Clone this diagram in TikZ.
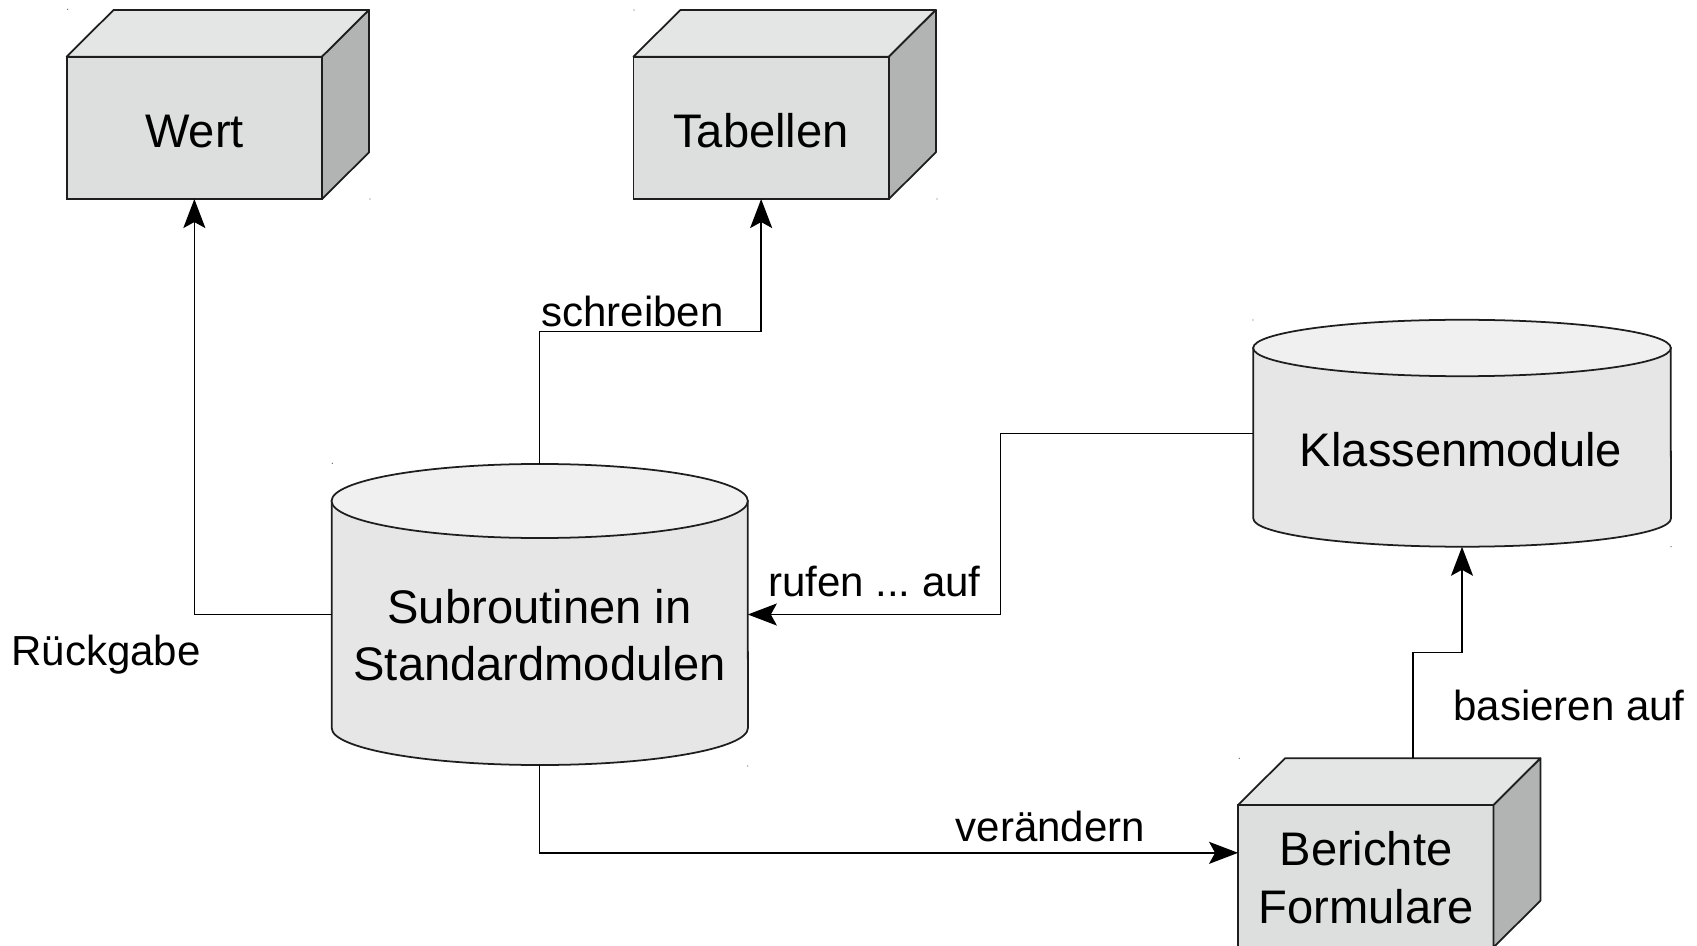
\documentclass[tikz,border=0pt]{standalone}
\usepackage{fontspec}
\setmainfont{Liberation Sans}
\usetikzlibrary{arrows.meta,calc}
\frenchspacing

\definecolor{frontgray}{RGB}{221,222,222}
\definecolor{topgray}{RGB}{228,229,229}
\definecolor{sidegray}{RGB}{178,179,179}
\definecolor{cylbody}{RGB}{230,230,230}
\definecolor{cyltop}{RGB}{240,240,240}
\definecolor{edgecol}{RGB}{30,30,30}

\tikzset{
  front/.style={draw=edgecol, fill=frontgray, line width=0.5pt,
    minimum width=2.553cm, minimum height=1.423cm, inner sep=0pt, outer sep=0pt},
  topface/.style={draw=edgecol, fill=topgray, line width=0.5pt, line join=round},
  sideface/.style={draw=edgecol, fill=sidegray, line width=0.5pt, line join=round},
  cylside/.style={draw=edgecol, fill=cylbody, line width=0.5pt},
  cylcap/.style={draw=edgecol, fill=cyltop, line width=0.5pt},
  hitbox/.style={inner sep=0pt, outer sep=0pt, draw=none},
  boxtext/.style={font=\fontsize{13.4pt}{16.4pt}\selectfont, inner sep=0pt, align=center},
  lbl/.style={font=\fontsize{11.95pt}{14pt}\selectfont, inner sep=0pt, anchor=base west},
  conn/.style={draw=black, line width=0.45pt,
    -{Stealth[length=0.29cm,width=0.22cm,inset=0.06cm]}},
  cornerdot/.style={fill=black!60},
}

% top and right faces of a cuboid whose front face is the node #1
\newcommand\cuboidfaces[1]{%
  \filldraw[topface] (#1.north west) -- ++(47,-46.7) -- ++(255.3,0) -- (#1.north east) -- cycle;
  \filldraw[sideface] (#1.north east) -- ++(47,-46.7) -- ++(0,142.3) -- (#1.south east) -- cycle;}

\begin{document}
\begin{tikzpicture}[x=0.01cm,y=-0.01cm]
  \useasboundingbox (0,0) rectangle (1697,946);
  \clip (0,0) rectangle (1697,946);
  \fill[white] (0,0) rectangle (1697,946);

  % cuboids
  \node[front] (wert) at (194.35,127.85) {};
  \cuboidfaces{wert}
  \node[front] (tab) at (761.15,127.85) {};
  \cuboidfaces{tab}
  \node[front] (ber) at (1365.8,876.15) {};
  \cuboidfaces{ber}
  \coordinate (bertop) at ($(ber.north)+(47,-46.7)$);

  \node[boxtext, anchor=base] (wert-t) at (194.5,147.7) {Wert};
  \node[boxtext, anchor=base] (tab-t) at (761,147.7) {Tabellen};
  \node[boxtext] (ber-t) at (1366,877.5) {Berichte\\Formulare};

  % cylinder: Subroutinen in Standardmodulen
  \filldraw[cylside] (331.7,501) -- (331.7,728)
    arc[start angle=180, end angle=360, x radius=2.08cm, y radius=0.37cm]
    -- (747.7,501) -- cycle;
  \filldraw[cylcap] (539.7,501) ellipse [x radius=2.08cm, y radius=0.37cm];
  \node[hitbox, minimum width=4.16cm, minimum height=3.01cm] (sub) at (539.7,614.5) {};
  \node[boxtext] (sub-t) at (539.5,635) {Subroutinen in\\Standardmodulen};

  % cylinder: Klassenmodule
  \filldraw[cylside] (1253.3,348) -- (1253.3,518.5)
    arc[start angle=180, end angle=360, x radius=2.087cm, y radius=0.282cm]
    -- (1670.7,348) -- cycle;
  \filldraw[cylcap] (1462,348) ellipse [x radius=2.087cm, y radius=0.282cm];
  \node[hitbox, minimum width=4.174cm, minimum height=2.267cm] (klas) at (1462,433.35) {};
  \node[boxtext, anchor=base] (klas-t) at (1461,466.7) {Klassenmodule};

  % connectors
  \draw[conn] (sub.west) -| (wert.south);
  \draw[conn] (sub.north) -- ++(0,-132.3) -| (tab.south);
  \coordinate (kbend) at ($(klas.west)+(-252.6,0)$);
  \draw[conn] (klas.west) -- (kbend) |- (sub.east);
  \draw[conn] (sub.south) |- ([yshift=0.233cm]ber.west);
  \draw[conn] (bertop) -- ++(0,-105.6) -| (klas.south);

  % connector labels
  \node[lbl] (l-rueck) at (10.7,665) {Rückgabe};
  \node[lbl] (l-schreib) at (540.7,326.7) {schreiben};
  \node[lbl] (l-rufen) at (767.3,596.7) {rufen ... auf};
  \node[lbl] (l-veraend) at (955,841) {verändern};
  \node[lbl] (l-basier) at (1452.7,720.7) {basieren auf};

  % bounding-box corner marks
  \foreach \p in {(67.7,9.3),(370,199),(634,10),(937,199),(1239.3,758.3),
                  (1253,320),(1671,546.7),(332.3,463.3),(747.7,766)}
    \fill[cornerdot] \p circle[radius=0.7];
\end{tikzpicture}
\end{document}
